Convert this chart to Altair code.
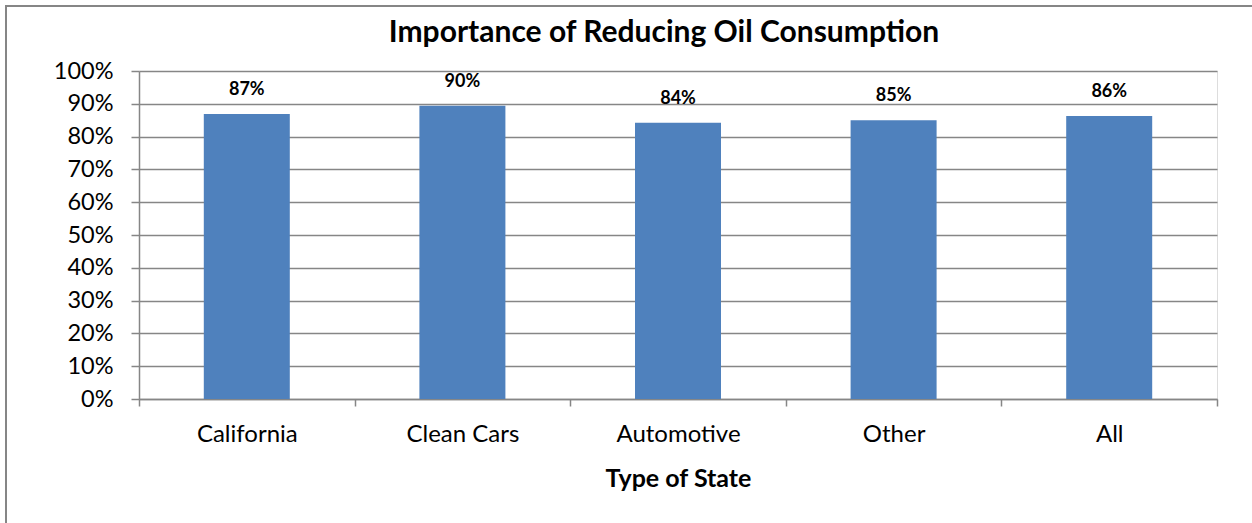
import altair as alt
import pandas as pd

categories = ["California", "Clean Cars", "Automotive", "Other", "All"]
values = [0.869, 0.894, 0.842, 0.850, 0.863]
labels = ["87%", "90%", "84%", "85%", "86%"]
y_ticks = [0.0, 0.1, 0.2, 0.3, 0.4, 0.5, 0.6, 0.7, 0.8, 0.9, 1.0]

df = pd.DataFrame({"state": categories, "value": values, "label": labels})

W, H = 1078, 328
GRAY = "#868686"
FONT = "Lato"

xenc = alt.X(
    "state:N",
    sort=categories,
    scale=alt.Scale(paddingInner=0, paddingOuter=0),
    axis=alt.Axis(
        title="Type of State",
        titleFont=FONT, titleFontSize=25, titleFontWeight="bold", titleColor="#000000",
        titlePadding=20,
        labelFont=FONT, labelFontSize=24, labelColor="#000000", labelAngle=0,
        labelPadding=16,
        tickBand="extent", tickSize=7, tickColor=GRAY, tickWidth=1.5,
        domainColor=GRAY, domainWidth=1.5, grid=False,
    ),
)
yenc = alt.Y(
    "value:Q",
    scale=alt.Scale(domain=[0, 1], nice=False),
    axis=alt.Axis(
        title=None, format=".0%", values=y_ticks, labelOverlap=False,
        labelFont=FONT, labelFontSize=23.5, labelColor="#000000", labelPadding=18,
        tickSize=8, tickColor=GRAY, tickWidth=1.5,
        domainColor=GRAY, domainWidth=1.5,
        grid=True, gridColor=GRAY, gridWidth=1.5,
    ),
)

bars = alt.Chart(df).mark_bar(color="#4F81BD", size=86).encode(x=xenc, y=yenc)
texts = alt.Chart(df).mark_text(
    font=FONT, fontSize=18, fontWeight="bold", color="#000000",
    baseline="middle", dy=-24,
).encode(x=xenc, y=yenc, text="label:N")

border = alt.Chart(pd.DataFrame({"a": [0]})).mark_rect(
    fill=None, stroke=GRAY, strokeWidth=2, clip=False
).encode(
    x=alt.value(-133), x2=alt.value(W + 60),
    y=alt.value(-65), y2=alt.value(H + 150),
)

chart = alt.layer(border, bars, texts).properties(
    width=W, height=H,
    title=alt.TitleParams(
        "Importance of Reducing Oil Consumption",
        font=FONT, fontSize=30, fontWeight="bold", color="#000000",
        anchor="middle", dx=-14, offset=-67, baseline="alphabetic",
    ),
    autosize=alt.AutoSizeParams(type="none"),
    padding={"left": 139, "top": 71, "right": 35, "bottom": 124},
).configure_view(stroke=None).configure(background="white")

chart.save("out.html", embed_options={"renderer": "svg", "actions": False})
